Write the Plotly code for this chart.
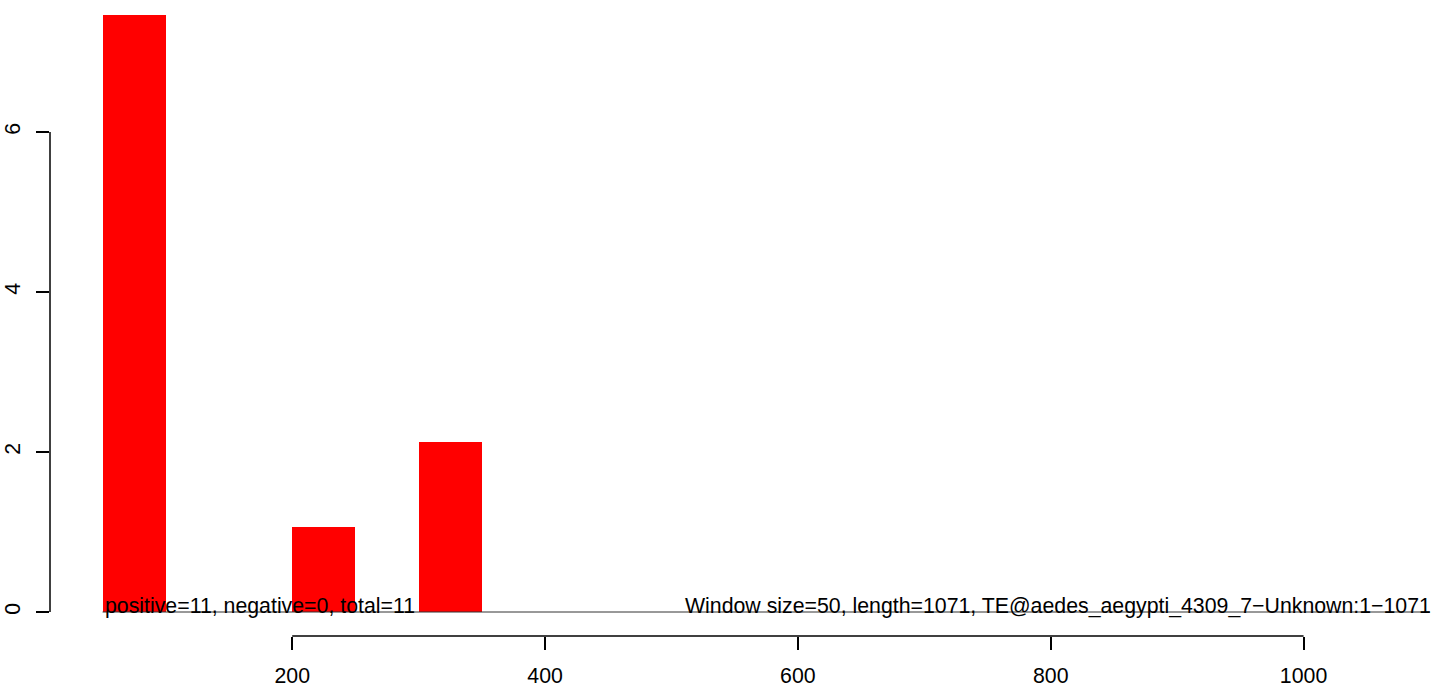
import plotly.graph_objects as go

# Data
window_starts = [50, 200, 300]
window_size = 50
window_values = [7.46, 1.06, 2.13]
baseline_start = 50
baseline_end = 1100
x_ticks = [200, 400, 600, 800, 1000]
y_ticks = [0, 2, 4, 6]
left_label = "positive=11, negative=0, total=11"
right_label = "Window size=50, length=1071, TE@aedes_aegypti_4309_7\u2212Unknown:1\u22121071"

FONT = "Liberation Sans, Arial, Helvetica, sans-serif"
FS = 21.3

fig = go.Figure()
fig.add_trace(go.Bar(
    x=[s + window_size / 2 for s in window_starts],
    y=window_values,
    width=[window_size] * len(window_starts),
    marker=dict(color="#FF0000", line=dict(width=0)),
    showlegend=False,
    hoverinfo="skip",
))

# baseline at y = 0
fig.add_shape(type="line", xref="x", yref="y", x0=baseline_start, x1=baseline_end,
              y0=0, y1=0, line=dict(color="#333333", width=1))
# axis lines (R style: only between first and last tick)
fig.add_shape(type="line", xref="x", yref="paper", x0=x_ticks[0], x1=x_ticks[-1],
              y0=0, y1=0, line=dict(color="black", width=1.5))
fig.add_shape(type="line", xref="paper", yref="y", x0=0, x1=0,
              y0=y_ticks[0], y1=y_ticks[-1], line=dict(color="black", width=1.5))

fig.add_annotation(x=baseline_start, y=0, xref="x", yref="y", text=left_label,
                   showarrow=False, xanchor="left", yanchor="bottom", yshift=-8,
                   font=dict(family=FONT, size=FS, color="black"))
fig.add_annotation(x=baseline_end, y=0, xref="x", yref="y", text=right_label,
                   showarrow=False, xanchor="right", yanchor="bottom", yshift=-8, xshift=3,
                   font=dict(family=FONT, size=FS, color="black"))

fig.update_layout(
    width=1444, height=687,
    margin=dict(l=50, r=0, t=0, b=51, autoexpand=False),
    plot_bgcolor="white", paper_bgcolor="white",
    bargap=0,
    font=dict(family=FONT, size=FS, color="black"),
    xaxis=dict(range=[8.4, 1111.1], tickvals=x_ticks, ticktext=[str(v) for v in x_ticks],
               ticks="outside", ticklen=13, tickwidth=1.5, tickcolor="black",
               ticklabelstandoff=7, automargin=False,
               showline=False, showgrid=False, zeroline=False,
               tickfont=dict(family=FONT, size=FS, color="black")),
    yaxis=dict(range=[-0.3, 7.65], tickvals=y_ticks, ticktext=[str(v) for v in y_ticks],
               ticks="outside", ticklen=13, tickwidth=1.5, tickcolor="black",
               tickangle=-90, ticklabelstandoff=7, automargin=False,
               showline=False, showgrid=False, zeroline=False,
               tickfont=dict(family=FONT, size=FS, color="black")),
)

fig.write_html("out.html", config={"displayModeBar": False},
               post_script="document.body.style.margin='0';document.body.style.overflow='hidden';")
